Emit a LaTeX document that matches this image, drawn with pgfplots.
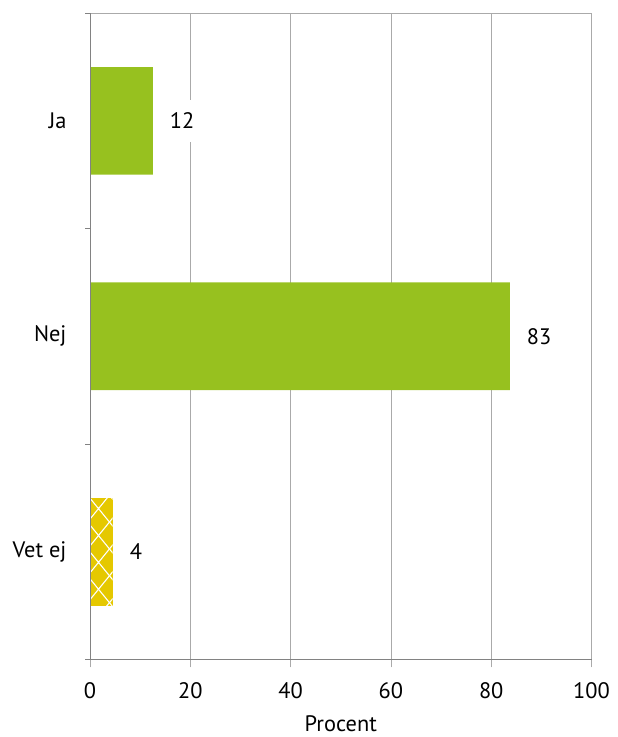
\documentclass[border=0pt]{standalone}
\usepackage{pgfplots}
\pgfplotsset{compat=1.18}
\usepackage{fontspec}
\setmainfont{PT Sans}
\usetikzlibrary{patterns}
\definecolor{barg}{RGB}{151,193,31}
\definecolor{bary}{RGB}{229,200,0}
\definecolor{gridc}{RGB}{170,170,170}
\definecolor{axc}{RGB}{130,130,130}
\pgfdeclarepatternformonly{xhatch}{\pgfqpoint{-1pt}{-1pt}}{\pgfqpoint{23pt}{28pt}}{\pgfqpoint{22pt}{27pt}}{%
  \pgfsetlinewidth{1.1pt}%
  \pgfpathmoveto{\pgfqpoint{0pt}{0pt}}\pgfpathlineto{\pgfqpoint{22pt}{27pt}}%
  \pgfpathmoveto{\pgfqpoint{0pt}{27pt}}\pgfpathlineto{\pgfqpoint{22pt}{0pt}}%
  \pgfusepath{stroke}}
\newcommand{\lblfont}{\fontsize{22.5}{26}\selectfont}
\begin{document}
\lblfont
\begin{tikzpicture}
\begin{axis}[
  scale only axis,
  width=502bp, height=647bp,
  xmin=0, xmax=100, ymin=-0.5, ymax=2.5,
  y dir=reverse,
  xbar, bar width=0.5,
  xtick={0,20,40,60,80,100},
  ytick={0,1,2},
  yticklabels={Ja,Nej,Vet ej},
  minor ytick={-0.5,0.5,1.5,2.5},
  ytick style={draw=none},
  minor y tick style={draw=axc, line width=0.8pt},
  minor tick length=5bp,
  major tick length=8bp,
  x tick style={draw=gridc, line width=0.8pt},
  tick align=outside,
  xtick pos=bottom, ytick pos=left,
  xmajorgrids,
  grid style={draw=gridc, line width=0.8pt},
  axis line style={draw=gridc, line width=0.8pt},
  /pgf/number format/assume math mode=true,
  tick label style={font=\lblfont},
  yticklabel style={xshift=-8bp},
  xticklabel style={yshift=-7bp},
  xlabel={Procent},
  xlabel style={font=\lblfont, inner sep=0pt, inner ysep=5.5pt, yshift=-4bp},
  point meta=explicit symbolic,
  nodes near coords,
  nodes near coords style={anchor=west, xshift=14bp, fill=white, inner sep=3pt, minimum height=42bp, font=\lblfont, text=black},
  clip=false,
]
\addplot[fill=barg, draw=none, bar shift=0pt] coordinates {(12.5,0) [12] (83.7,1) [83]};
\addplot[fill=bary, draw=none, bar shift=0pt, postaction={pattern=xhatch, pattern color=white}] coordinates {(4.5,2) [4]};
\draw[axc, line width=0.8pt] (axis cs:0,-0.5) -- (axis cs:0,2.5);
\draw[axc, line width=0.8pt] (axis cs:0,2.5) -- (axis cs:100,2.5);
\node[anchor=south, inner sep=0pt, minimum height=13bp, minimum width=1bp] at (axis cs:50,-0.5) {};
\node[anchor=east, inner sep=0pt, minimum height=1bp, minimum width=90bp] at (axis cs:0,1) {};
\node[anchor=west, inner sep=0pt, minimum height=1bp, minimum width=17bp] at (axis cs:100,1) {};
\end{axis}
\end{tikzpicture}
\end{document}
